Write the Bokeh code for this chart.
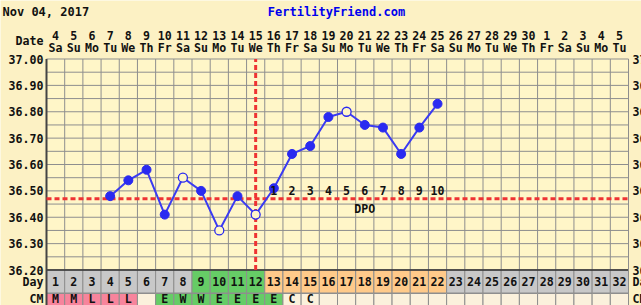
from bokeh.plotting import figure
from bokeh.models import Range1d
from bokeh.core.properties import value
from bokeh.embed import file_html
from bokeh.resources import INLINE

# ---------------- data ----------------
chart_date = "Nov 04, 2017"
site_name = "FertilityFriend.com"
cycle_days = list(range(1, 33))
dates = ["4", "5", "6", "7", "8", "9", "10", "11", "12", "13", "14", "15", "16", "17",
         "18", "19", "20", "21", "22", "23", "24", "25", "26", "27", "28", "29", "30",
         "1", "2", "3", "4", "5"]
weekdays = ["Sa", "Su", "Mo", "Tu", "We", "Th", "Fr"] * 4 + ["Sa", "Su", "Mo", "Tu"]
temp_days = list(range(4, 23))
temps = [36.48, 36.54, 36.58, 36.41, 36.55, 36.50, 36.35, 36.48, 36.41, 36.51,
         36.64, 36.67, 36.78, 36.80, 36.75, 36.74, 36.64, 36.74, 36.83]
open_days = [8, 10, 12, 17]
coverline = 36.47
ovulation_day = 12
dpo_days = list(range(13, 23))
dpo_labels = ["1", "2", "3", "4", "5", "6", "7", "8", "9", "10"]
phases = ["pre"] * 8 + ["fertile"] * 4 + ["post"] * 10 + ["future"] * 10
cm_codes = ["M", "M", "L", "L", "L", "", "E", "W", "W", "E", "E", "E", "E", "C", "C"] + [""] * 17
cm_kinds = ["menses"] * 5 + ["none"] + ["fertile"] * 7 + ["none"] * 19
temp_ticks = [36.2, 36.3, 36.4, 36.5, 36.6, 36.7, 36.8, 36.9, 37.0]
temp_labels = ["36.20", "36.30", "36.40", "36.50", "36.60", "36.70", "36.80", "36.90", "37.00"]
grid_temps = [round(36.2 + 0.05 * i, 2) for i in range(17)]

# ---------------- geometry / style ----------------
W, H = 641, 305
LEFT, TOP = 46, 58.5
PX_DAY = 582 / 32.0
PX_DEG = 263.75

def y_at(py):
    return 37.0 - (py - TOP) / PX_DEG

def x_at(px):
    return 0.5 + (px - LEFT) / PX_DAY

OUTER = "#fcf1c4"
PLOT_BG = "#fff6c8"
GRID = "#8e8e8e"
DARK = "#444444"
INK = "#111111"
FONT = "DejaVu Sans Mono"
FS = "11.6px"
RED = "#ee3333"
phase_color = {"pre": "#c8c8c8", "fertile": "#66cc66", "post": "#ffca8a", "future": "#c8c8c8"}
cm_color = {"menses": "#f7849c", "fertile": "#66cc66", "none": "#fbf1dc"}

X0, X1 = 0.5, 32.5
T_LO, T_HI = 36.2, 37.0
day_bot = y_at(292.5)
cm_top, cm_bot = y_at(293.0), y_at(330)
day_y = y_at(281)
cm_y = y_at(298.5)

p = figure(width=W, height=H, x_range=Range1d(x_at(0), x_at(W)), y_range=Range1d(y_at(H), y_at(0)),
           x_axis_location=None, y_axis_location=None, toolbar_location=None,
           output_backend="svg", min_border=0)
p.grid.visible = False
p.outline_line_color = None
p.border_fill_color = OUTER
p.background_fill_color = OUTER

# chart area and grid
p.quad(left=X0, right=X1, top=T_HI, bottom=T_LO, fill_color=PLOT_BG, line_color=None)
bounds = [d + 0.5 for d in range(0, 33)]
p.segment(x0=bounds, x1=bounds, y0=T_LO, y1=T_HI, line_color=GRID, line_width=1)
p.segment(x0=X0, x1=X1, y0=grid_temps, y1=grid_temps, line_color=GRID, line_width=1)

# Day row and CM row
lefts = [d - 0.5 for d in cycle_days]
rights = [d + 0.5 for d in cycle_days]
p.quad(left=lefts, right=rights, top=T_LO, bottom=day_bot,
       fill_color=[phase_color[ph] for ph in phases], line_color=GRID, line_width=1)
p.quad(left=lefts, right=rights, top=cm_top, bottom=cm_bot,
       fill_color=[cm_color[k] for k in cm_kinds], line_color=GRID, line_width=1)
p.segment(x0=X0, x1=X1, y0=T_LO, y1=T_LO, line_color="#333333", line_width=1.5)
p.segment(x0=X0, x1=X0, y0=y_at(H), y1=T_HI, line_color=DARK, line_width=2)

txt = dict(text_font=value(FONT), text_font_style="bold", text_font_size=FS,
           text_align="center", text_baseline="middle", text_color=INK)
rtxt = dict(txt, text_align="right")
ltxt = dict(txt, text_align="left")

# row texts
p.text(x=cycle_days, y=[day_y] * 32, text=[str(d) for d in cycle_days], **txt)
cm_x = [d for d, c in zip(cycle_days, cm_codes) if c]
cm_t = [c for c in cm_codes if c]
p.text(x=cm_x, y=[cm_y] * len(cm_x), text=cm_t, **txt)

# date header rows
p.text(x=cycle_days, y=[y_at(34.5)] * 32, text=dates, **txt)
p.text(x=cycle_days, y=[y_at(47.5)] * 32, text=weekdays, **txt)
p.text(x=[x_at(43)], y=[y_at(40.5)], text=["Date"], **rtxt)

# left scale labels
p.text(x=[x_at(43)] * (len(temp_ticks) + 2), y=temp_ticks + [day_y, cm_y],
       text=temp_labels + ["Day", "CM"], **rtxt)
# right scale labels (chart continues beyond the window)
p.segment(x0=X1, x1=X1, y0=y_at(H), y1=T_HI, line_color=GRID, line_width=1)
p.text(x=[x_at(632)] * (len(temp_ticks) + 2), y=temp_ticks + [day_y, cm_y],
       text=temp_labels + ["Day", "CM"], **ltxt)

# titles
p.text(x=[x_at(2)], y=[y_at(11)], text=[chart_date], **dict(ltxt, text_font_size="12px"))
p.text(x=[x_at(336)], y=[y_at(11.5)], text=[site_name],
       **dict(txt, text_font_size="12px", text_color="#0000ee"))

# coverline and ovulation line
p.segment(x0=X0, x1=X1, y0=coverline, y1=coverline, line_color=RED,
          line_width=3, line_dash="5 3")
p.segment(x0=ovulation_day, x1=ovulation_day, y0=T_LO, y1=T_HI, line_color=RED,
          line_width=3, line_dash="5 3")

# temperatures
BLUE = "#2a2af0"
p.line(temp_days, temps, line_color="#3b3bf2", line_width=2)
filled_x = [d for d in temp_days if d not in open_days]
filled_y = [t for d, t in zip(temp_days, temps) if d not in open_days]
open_x = [d for d in temp_days if d in open_days]
open_y = [t for d, t in zip(temp_days, temps) if d in open_days]
p.scatter(filled_x, filled_y, marker="circle", size=9, fill_color=BLUE, line_color=BLUE)
p.scatter(open_x, open_y, marker="circle", size=9, fill_color=PLOT_BG, line_color=BLUE,
          line_width=1.3)

# DPO labels
p.text(x=dpo_days, y=[coverline + 0.03] * len(dpo_days), text=dpo_labels, **txt)
p.text(x=[18], y=[y_at(208)], text=["DPO"], **txt)

open("out.html", "w").write(file_html(p, INLINE))
